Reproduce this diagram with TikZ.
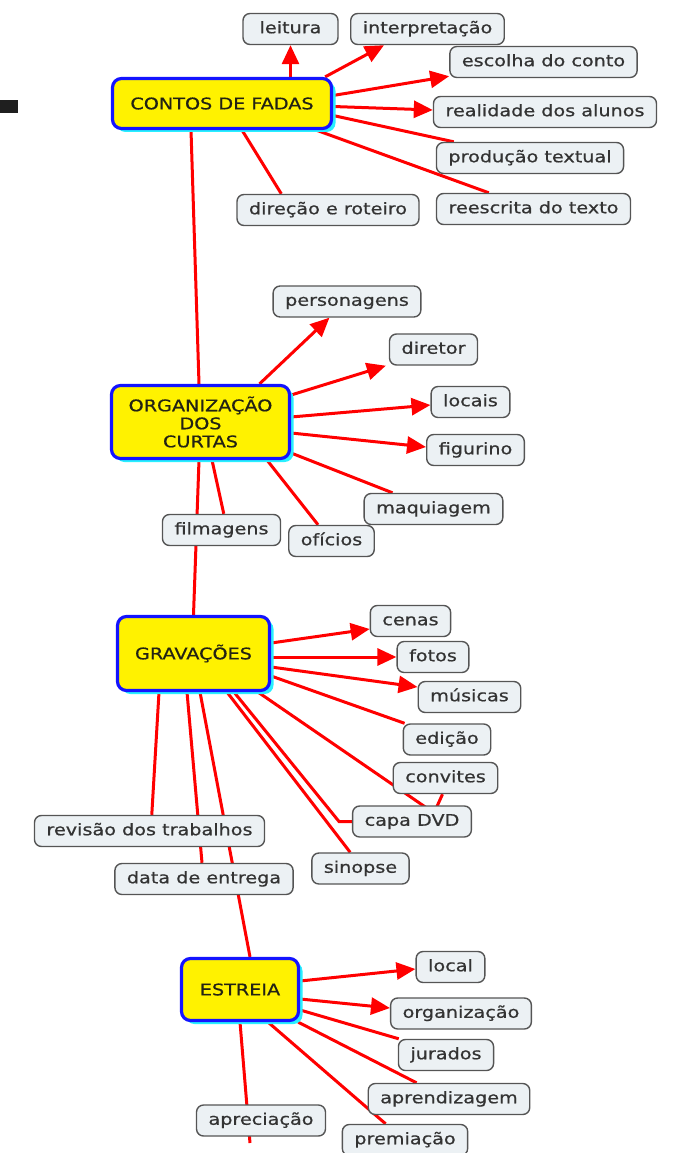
\documentclass[tikz,border=0pt]{standalone}
\usepackage{fontspec}
\setmainfont[FakeStretch=1.2, FakeBold=0.7]{DejaVu Sans}
\usetikzlibrary{arrows.meta, shadows, backgrounds}
\definecolor{linkred}{RGB}{255,0,0}
\definecolor{topicblue}{RGB}{20,20,255}
\definecolor{topicshade}{RGB}{40,240,255}
\definecolor{topictext}{RGB}{34,34,20}
\definecolor{itemgray}{RGB}{85,85,85}
\definecolor{itemfill}{RGB}{236,241,244}
\definecolor{itemtext}{RGB}{51,51,51}

\begin{document}
\begin{tikzpicture}[x=1pt, y=-1pt, font=\fontsize{16}{18}\selectfont,
  topic/.style={draw=topicblue, line width=3.2pt, fill=yellow, rounded corners=9pt, text=topictext, align=center, drop shadow={shadow xshift=4pt, shadow yshift=-3.5pt, fill=topicshade, opacity=1}},
  item/.style={draw=itemgray, line width=1.4pt, fill=itemfill, rounded corners=7pt, text=itemtext, minimum height=31pt, inner xsep=12pt, inner ysep=0pt, text height=12pt, text depth=3.5pt},
  link/.style={draw=linkred, line width=3pt},
  arr/.style={link, -{Triangle[length=19pt, width=17pt]}}]

\useasboundingbox (0,0) rectangle (672,1153);
\fill[black!88] (0,100) rectangle (18,113);

\node[topic, minimum width=219pt, minimum height=50pt] (contos) at (222,103.5) {CONTOS DE FADAS};
\node[item, minimum width=95pt] (lei) at (290.5,29) {leitura};
\node[item] (interp) at (427.5,29) {interpretação};
\node[item] (esc) at (543.5,62) {escolha do conto};
\node[item] (real) at (545,112) {realidade dos alunos};
\node[item] (prod) at (530,158) {produção textual};
\node[item] (rees) at (533.5,209) {reescrita do texto};
\node[item] (dire) at (328,210) {direção e roteiro};

\node[topic, minimum width=178pt, minimum height=73pt] (org) at (200.5,422) {ORGANIZAÇÃO\\DOS\\CURTAS};
\node[item] (pers) at (347,301.5) {personagens};
\node[item] (dirr) at (433.5,349.5) {diretor};
\node[item] (loc) at (470.5,402) {locais};
\node[item] (fig) at (475.5,450) {figurino};
\node[item] (maq) at (433.5,509) {maquiagem};
\node[item] (ofi) at (331.5,541) {ofícios};
\node[item] (film) at (221.5,530) {filmagens};

\node[topic, minimum width=152pt, minimum height=74pt] (grav) at (193.5,653.5) {GRAVAÇÕES};
\node[item] (cen) at (410.5,621) {cenas};
\node[item] (fot) at (433,657) {fotos};
\node[item] (mus) at (469.5,697) {músicas};
\node[item] (edi) at (447,739.5) {edição};
\node[item] (conv) at (445.5,778) {convites};
\node[item] (capa) at (412,821.5) {capa DVD};
\node[item] (sin) at (360.5,868.5) {sinopse};
\node[item] (rev) at (149.5,831) {revisão dos trabalhos};
\node[item] (data) at (204,879) {data de entrega};

\node[topic, minimum width=117pt, minimum height=62pt] (est) at (240,989.5) {ESTREIA};
\node[item] (lcl) at (450.5,967) {local};
\node[item] (orgz) at (461,1013.5) {organização};
\node[item] (jur) at (446,1055) {jurados};
\node[item] (apr) at (449,1099) {aprendizagem};
\node[item] (aprc) at (261,1120.5) {apreciação};
\node[item] (prem) at (405,1140) {premiação};

\coordinate (convbend) at (434,813);
\coordinate (capabend) at (339,821.5);
\coordinate (aprtail) at (250,1143);

\begin{scope}[on background layer]
\draw[arr] (contos.north -| lei) -- (lei.south);
\draw[arr] ([xshift=-8pt]contos.north east) -- ([xshift=34pt]interp.south west);
\draw[arr] ([yshift=8pt]contos.east) -- ([yshift=2pt]esc.south west);
\draw[arr] ([yshift=-3pt]contos.east) -- ([yshift=2pt]real.west);
\draw[link] ([yshift=-12pt]contos.east) -- ([xshift=18pt]prod.north west);
\draw[link] ([xshift=-17pt]contos.south east) -- ([xshift=53pt]rees.north west);
\draw[link] ([xshift=20pt]contos.south) -- ([xshift=45pt]dire.north west);
\draw[link] ([xshift=-31pt]contos.south) -- ([xshift=-1.5pt]org.north);

\draw[arr] ([xshift=59pt]org.north) -- ([xshift=57pt]pers.south west);
\draw[arr] ([yshift=27pt]org.east) -- ([xshift=-3pt]dirr.south west);
\draw[arr] ([yshift=5pt]org.east) -- ([yshift=-3pt]loc.west);
\draw[arr] ([yshift=-11pt]org.east) -- ([yshift=3pt]fig.west);
\draw[link] ([yshift=-31pt]org.east) -- ([xshift=29pt]maq.north west);
\draw[link] ([xshift=66.5pt]org.south) -- ([xshift=30pt]ofi.north west);
\draw[link] ([xshift=11.5pt]org.south) -- ([xshift=62pt]film.north west);
\draw[link] ([xshift=-1.5pt]org.south) -- (grav.north);

\draw[arr] ([yshift=10.5pt]grav.east) -- ([yshift=-8pt]cen.west);
\draw[arr] ([yshift=-3.5pt]grav.east) -- (fot.west);
\draw[arr] ([yshift=-13.5pt]grav.east) -- ([yshift=10pt]mus.west);
\draw[link] ([yshift=-22.5pt]grav.east) -- ([xshift=2pt]edi.north west);
\draw[link] ([xshift=64.5pt]grav.south) -- (convbend) -- ([xshift=-3pt]conv.south);
\draw[link] ([xshift=40.5pt]grav.south) -- (capabend) -- (capa.west);
\draw[link] ([xshift=33.5pt]grav.south) -- ([xshift=39pt]sin.north west);
\draw[link] ([xshift=-34.5pt]grav.south) -- ([xshift=118pt]rev.north west);
\draw[link] ([xshift=-6.5pt]grav.south) -- ([xshift=-2pt]data.north);
\draw[link] ([xshift=6.5pt]grav.south) -- ([xshift=10pt]est.north);

\draw[arr] ([yshift=8.5pt]est.east) -- ([yshift=-2pt]lcl.west);
\draw[arr] ([yshift=-9.5pt]est.east) -- ([yshift=5.5pt]orgz.west);
\draw[link] ([yshift=-20.5pt]est.east) -- ([xshift=1pt]jur.north west);
\draw[link] ([xshift=-2pt]est.south east) -- ([xshift=49pt]apr.north west);
\draw[link] ([xshift=28pt]est.south) -- ([xshift=44pt]prem.north west);
\draw[link] (est.south) -- (aprtail);
\end{scope}
\end{tikzpicture}
\end{document}
